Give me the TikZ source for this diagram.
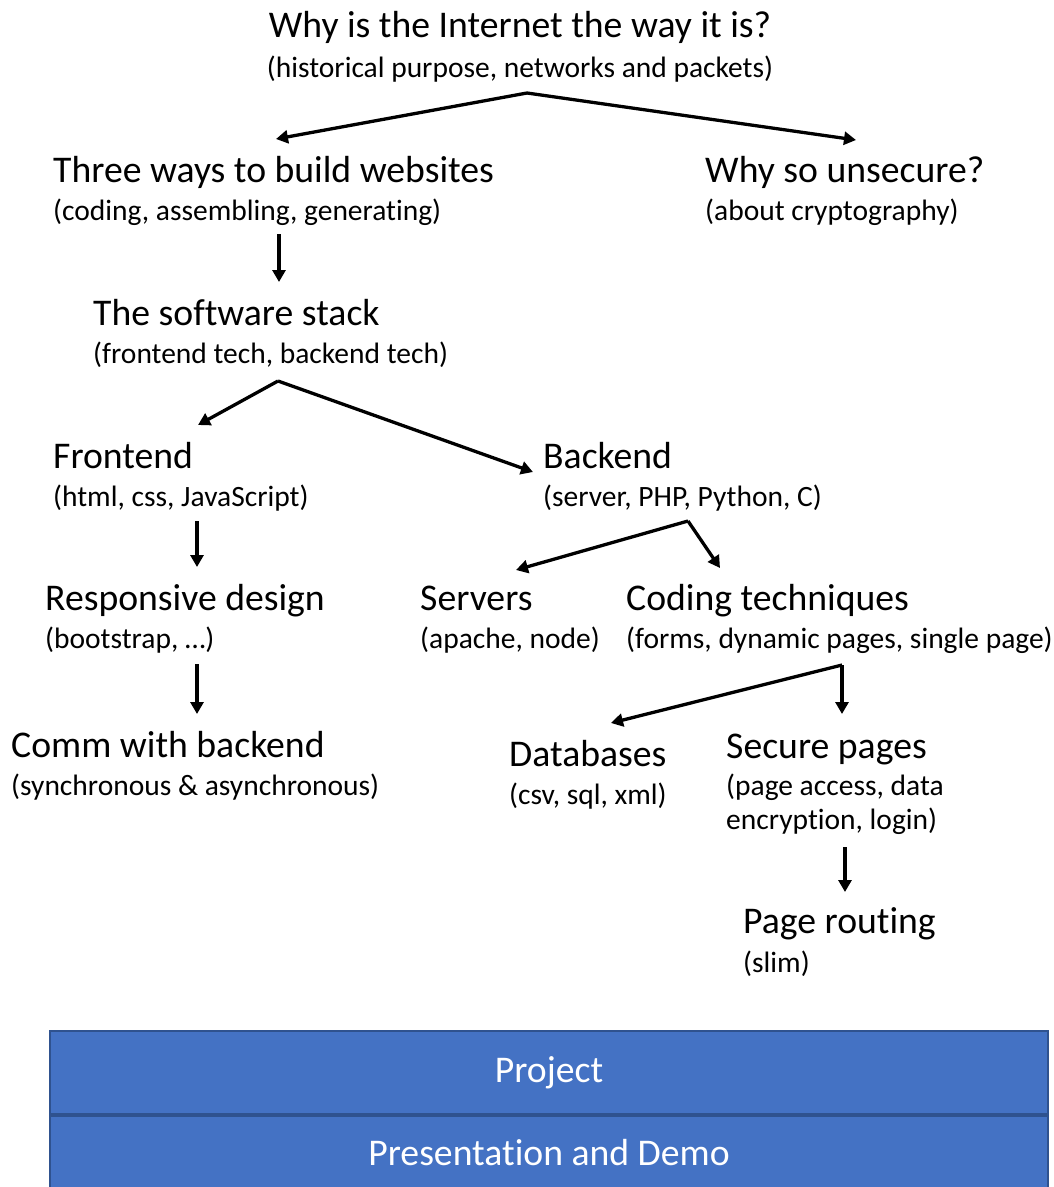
\documentclass[tikz,border=0pt]{standalone}
\usepackage{fontspec}
\setmainfont{Carlito}[Ligatures=NoCommon]
\usepackage{tikz}
\usetikzlibrary{arrows.meta}
\definecolor{barblue}{HTML}{4472C4}
\definecolor{barline}{HTML}{2F528F}
\tikzstyle{topic} = [anchor=base west, inner sep=0pt, font=\fontsize{37.7}{44}\selectfont]
\tikzstyle{detail} = [anchor=base west, inner sep=0pt, font=\fontsize{29.5}{33.5}\selectfont]
\tikzstyle{flow} = [line width=3.3pt, -{Triangle[length=12pt, width=13pt]}]
\tikzstyle{bar} = [draw=barline, fill=barblue, line width=2pt, text=white, font=\fontsize{37.7}{44}\selectfont]

\begin{document}
\begin{tikzpicture}[x=1pt, y=-1pt]
\useasboundingbox (0,0) rectangle (1054,1187);

% topics
\node[topic, anchor=base] (why) at (520,37) {Why is the Internet the way it is?};
\node[detail, anchor=base] (why-sub) at (520,77) {(historical purpose, networks and packets)};
\node[topic] (three) at (53,182) {Three ways to build websites};
\node[detail] (three-sub) at (53,220) {(coding, assembling, generating)};
\node[topic] (unsecure) at (705,182) {Why so unsecure?};
\node[detail] (unsecure-sub) at (705,220) {(about cryptography)};
\node[topic] (stack) at (93,325) {The software stack};
\node[detail] (stack-sub) at (93,363) {(frontend tech, backend tech)};
\node[topic] (front) at (53,468) {Frontend};
\node[detail] (front-sub) at (53,506) {(html, css, JavaScript)};
\node[topic] (back) at (543,468) {Backend};
\node[detail] (back-sub) at (543,506) {(server, PHP, Python, C)};
\node[topic] (resp) at (45,610) {Responsive design};
\node[detail] (resp-sub) at (45,648) {(bootstrap, \dots)};
\node[topic] (servers) at (420,610) {Servers};
\node[detail] (servers-sub) at (420,648) {(apache, node)};
\node[topic] (coding) at (626,610) {Coding techniques};
\node[detail] (coding-sub) at (626,648) {(forms, dynamic pages, single page)};
\node[topic] (comm) at (11,757) {Comm with backend};
\node[detail] (comm-sub) at (11,795) {(synchronous \& asynchronous)};
\node[topic] (db) at (509,766) {Databases};
\node[detail] (db-sub) at (509,804) {(csv, sql, xml)};
\node[topic] (secure) at (726,758) {Secure pages};
% base of a two-line node is its last line
\node[detail, align=left] (secure-sub) at (726,829) {(page access, data\\encryption, login)};
\node[topic] (routing) at (743,933) {Page routing};
\node[detail] (routing-sub) at (743,972) {(slim)};

% fork points and arrow ends
\coordinate (why-fork) at (527,93);
\coordinate (three-in) at (276,139);
\coordinate (unsecure-in) at (856,140);
\coordinate (three-out) at (279,234);
\coordinate (stack-in) at (279,282);
\coordinate (stack-fork) at (278,381);
\coordinate (front-in) at (198,425);
\coordinate (back-in) at (533,472);
\coordinate (front-out) at (197,521);
\coordinate (resp-in) at (197,567);
\coordinate (resp-out) at (197,664);
\coordinate (comm-in) at (197,714);
\coordinate (back-fork) at (688,521);
\coordinate (servers-in) at (516,570);
\coordinate (coding-in) at (720,568);
\coordinate (coding-fork) at (842,665);
\coordinate (db-in) at (611,723);
\coordinate (secure-in) at (842,714);
\coordinate (secure-out) at (845,847);
\coordinate (routing-in) at (845,892);

\draw[flow] (why-fork) -- (three-in);
\draw[flow] (why-fork) -- (unsecure-in);
\draw[flow] (three-out) -- (stack-in);
\draw[flow] (stack-fork) -- (front-in);
\draw[flow] (stack-fork) -- (back-in);
\draw[flow] (front-out) -- (resp-in);
\draw[flow] (resp-out) -- (comm-in);
\draw[flow] (back-fork) -- (servers-in);
\draw[flow] (back-fork) -- (coding-in);
\draw[flow] (coding-fork) -- (db-in);
\draw[flow] (coding-fork) -- (secure-in);
\draw[flow] (secure-out) -- (routing-in);

% bottom bars
\node[bar, minimum width=998pt, minimum height=83pt, anchor=north west] (project) at (49,1030) {Project};
\node[bar, minimum width=998pt, minimum height=90pt, anchor=north west,
  text depth=18pt] (demo) at (project.south west) {Presentation and Demo};
\end{tikzpicture}
\end{document}
